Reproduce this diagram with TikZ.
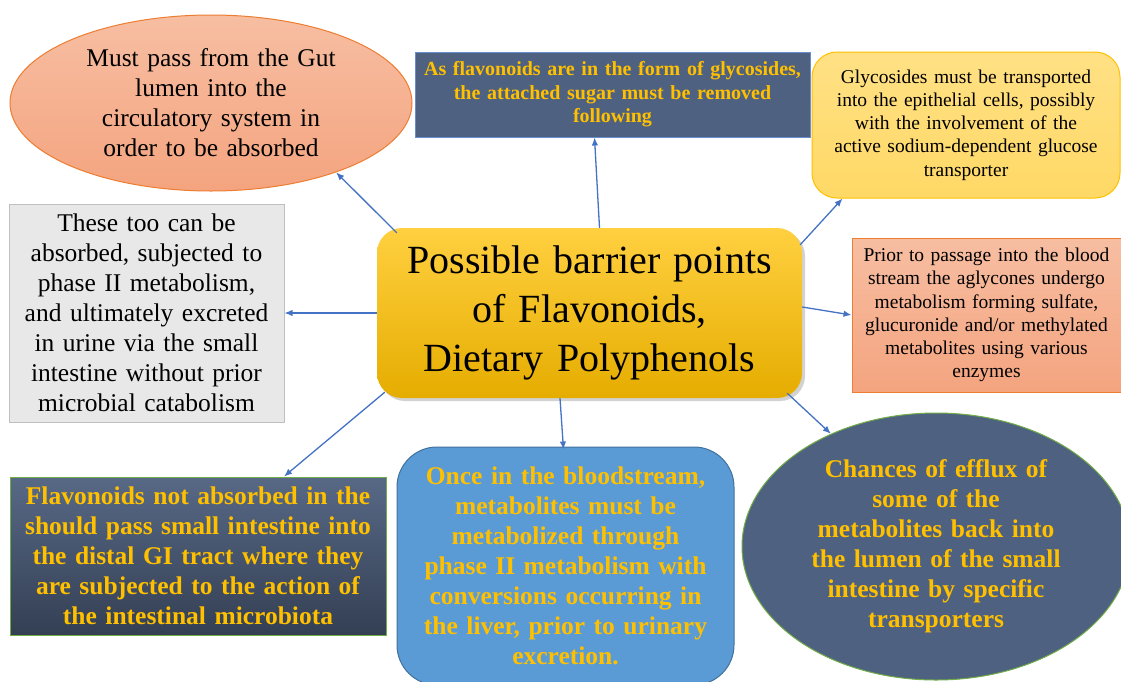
\documentclass[tikz,border=0pt]{standalone}
\usepackage{fontspec}
\setmainfont{Liberation Serif}
\usetikzlibrary{shapes.geometric,arrows.meta,shadows}

\definecolor{linkBlue}{HTML}{4472C4}
\definecolor{gold}{HTML}{FFC000}
\definecolor{slate}{HTML}{4F6180}
\definecolor{salmonTop}{HTML}{F7BEA2}
\definecolor{salmonBot}{HTML}{F4A47F}
\definecolor{orangeLine}{HTML}{ED7D31}
\definecolor{greenLine}{HTML}{70AD47}
\definecolor{sky}{HTML}{5B9BD5}
\definecolor{skyLine}{HTML}{41719C}
\definecolor{paleGold}{HTML}{FFD966}

\begin{document}
\begin{tikzpicture}[x=1pt,y=-1pt,
  link/.style={draw=linkBlue, line width=1.3pt, -{Latex[length=8pt,width=6.5pt]}},
  box/.style={rectangle, inner sep=0pt, align=center},
  plainText/.style={font=\fontsize{25.5}{30}\selectfont},
  smallText/.style={font=\fontsize{19.5}{23.3}\selectfont},
  boldText/.style={font=\fontsize{25.5}{30}\selectfont\bfseries, text=gold},
  salmon/.style={top color=salmonTop, bottom color=salmonBot, draw=orangeLine, line width=1pt},
]

\path[use as bounding box, fill=white] (0,0) rectangle (1121,681);

% centre
\node[box, rounded corners=25pt, minimum width=425pt, minimum height=170pt,
  top color=gold!75!white, middle color=gold, bottom color=gold!90!black,
  drop shadow={opacity=0.35, shadow xshift=3pt, shadow yshift=-3pt},
  text width=400pt, font=\fontsize{40}{49}\selectfont] (hub) at (589.5,313)
  {Possible barrier points\\of Flavonoids,\\Dietary Polyphenols};

% around
\node[ellipse, salmon, inner sep=0pt, minimum width=402pt, minimum height=176pt,
  align=center, text width=260pt, plainText] (gut) at (211,103)
  {Must pass from the Gut\\lumen into the\\circulatory system in\\order to be absorbed};

\node[box, fill=slate, draw=linkBlue!80!white, line width=1pt,
  minimum width=395pt, minimum height=85pt, text width=385pt,
  font=\fontsize{20}{23.5}\selectfont\bfseries, text=gold] (sugar) at (612.5,94.5)
  {As flavonoids are in the form of glycosides,\\the attached sugar must be removed\\following};

\node[box, rounded corners=25pt, top color=paleGold!80!white, bottom color=paleGold,
  draw=gold, line width=1pt, minimum width=308pt, minimum height=146pt,
  text width=290pt, smallText] (glyco) at (966,125)
  {Glycosides must be transported\\into the epithelial cells, possibly\\with the involvement of the\\active sodium-dependent glucose\\transporter};

\node[box, salmon, minimum width=269pt, minimum height=154pt,
  text width=262pt, smallText] (prior) at (986.5,315)
  {Prior to passage into the blood\\stream the aglycones undergo\\metabolism forming sulfate,\\glucuronide and/or methylated\\metabolites using various\\enzymes};

\node[box, fill=gray!18, draw=gray!50, line width=1pt,
  minimum width=275pt, minimum height=218pt, text width=265pt, plainText] (these) at (146.5,313)
  {These too can be\\absorbed, subjected to\\phase II metabolism,\\and ultimately excreted\\in urine via the small\\intestine without prior\\microbial catabolism};

\node[box, top color=slate!95!white, bottom color=slate!65!black, draw=greenLine, line width=1pt,
  minimum width=376pt, minimum height=158pt, text width=366pt, boldText] (flav) at (198,556)
  {Flavonoids not absorbed in the\\should pass small intestine into\\the distal GI tract where they\\are subjected to the action of\\the intestinal microbiota};

\node[box, rounded corners=40pt, fill=sky, draw=skyLine, line width=1pt,
  minimum width=337pt, minimum height=238pt, text width=320pt, boldText] (once) at (565.5,566)
  {Once in the bloodstream,\\metabolites must be\\metabolized through\\phase II metabolism with\\conversions occurring in\\the liver, prior to urinary\\excretion.};

\node[ellipse, fill=slate, draw=greenLine, line width=1pt, inner sep=0pt,
  minimum width=388pt, minimum height=267pt, align=center, text width=255pt, boldText] (efflux) at (936,546.5)
  {Chances of efflux of\\some of the\\metabolites back into\\the lumen of the small\\intestine by specific\\transporters};

% links
\draw[link] ([xshift=20pt,yshift=-5pt]hub.north west) -- (gut.-29);
\draw[link] ([xshift=10pt]hub.north) -- ([xshift=-18pt]sugar.south);
\draw[link] ([xshift=-2pt,yshift=-17pt]hub.north east) -- ([xshift=31pt]glyco.south west);
\draw[link] ([yshift=6pt]hub.east) -- (prior.west);
\draw[link] (hub.west) -- (these.east);
\draw[link] ([xshift=8pt,yshift=6pt]hub.south west) -- ([xshift=86pt]flav.north);
\draw[link] ([xshift=-29.5pt]hub.south) -- ([xshift=-2pt,yshift=-3pt]once.north);
\draw[link] ([xshift=-15pt,yshift=5pt]hub.south east) -- (efflux.133);

\end{tikzpicture}
\end{document}
